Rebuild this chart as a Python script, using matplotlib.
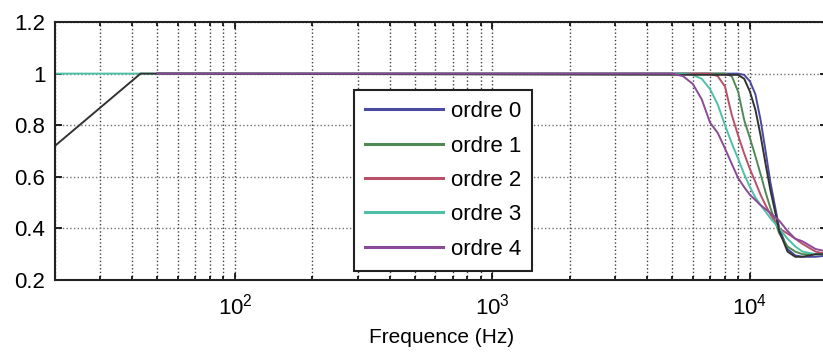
import matplotlib
matplotlib.use('Agg')
import matplotlib.pyplot as plt
from matplotlib.ticker import LogLocator, NullFormatter, FixedLocator

plt.rcParams['font.family'] = ['Liberation Sans', 'DejaVu Sans']

# common frequency grid for the roll-off region (Hz)
freq_hi = [4000, 5000, 5500, 6000, 6500, 7000, 7500, 8000, 8500, 9000, 9500,
           10000, 10500, 11000, 11500, 12000, 13000, 14000, 15000, 16000, 18000, 20000]

# where each curve starts at low frequency (value 1 there)
start_freq = {'ordre 0': 50, 'ordre 1': 50, 'ordre 2': 50, 'ordre 3': 20, 'ordre 4': 50}

ordre0 = [1, 1, 1, 1, 1, 1, 1, 1, 1, 1, 0.995, 0.97, 0.92, 0.82, 0.70, 0.58, 0.40, 0.32, 0.295, 0.29, 0.29, 0.295]
ordre1 = [1, 1, 1, 1, 1, 1, 1, 1, 0.99, 0.93, 0.82, 0.75, 0.68, 0.61, 0.54, 0.48, 0.38, 0.33, 0.31, 0.30, 0.30, 0.30]
ordre2 = [1, 1, 1, 1, 1, 1, 0.99, 0.95, 0.84, 0.76, 0.69, 0.63, 0.58, 0.53, 0.49, 0.455, 0.40, 0.38, 0.36, 0.34, 0.31, 0.30]
ordre3 = [1, 1, 1, 0.995, 0.98, 0.94, 0.88, 0.80, 0.73, 0.67, 0.61, 0.56, 0.52, 0.49, 0.465, 0.44, 0.40, 0.36, 0.33, 0.31, 0.30, 0.30]
ordre4 = [1, 1, 0.99, 0.96, 0.90, 0.81, 0.77, 0.71, 0.65, 0.595, 0.56, 0.53, 0.51, 0.49, 0.475, 0.46, 0.43, 0.39, 0.36, 0.35, 0.32, 0.31]

# reference curve (black), not in the legend
ref_freq = [20, 43, 9000, 9500, 10000, 10500, 11000, 11500, 12000, 13000, 14000, 15000, 16000, 18000, 20000]
ref_vals = [0.72, 1.0, 0.995, 0.98, 0.93, 0.86, 0.76, 0.65, 0.55, 0.39, 0.31, 0.29, 0.29, 0.30, 0.30]

series = {'ordre 0': ordre0, 'ordre 1': ordre1, 'ordre 2': ordre2,
          'ordre 3': ordre3, 'ordre 4': ordre4}
colors = {'ordre 0': '#4a4aa0', 'ordre 1': '#4f8a55', 'ordre 2': '#b8506a',
          'ordre 3': '#4fbfa8', 'ordre 4': '#8a4a98'}

fig = plt.figure(figsize=(8.23, 3.52), dpi=100)
ax = fig.add_axes([0.0668, 0.2045, 0.9386, 0.733])

handles = []
for name in ['ordre 0', 'ordre 1', 'ordre 2', 'ordre 3']:
    f = [start_freq[name]] + freq_hi
    v = [1.0] + series[name]
    h, = ax.plot(f, v, color=colors[name], linewidth=1.4, label=name)
    handles.append(h)
ax.plot(ref_freq, ref_vals, color='#333333', linewidth=1.4)
f = [start_freq['ordre 4']] + freq_hi
v = [1.0] + series['ordre 4']
h, = ax.plot(f, v, color=colors['ordre 4'], linewidth=1.4, label='ordre 4')
handles.append(h)

ax.set_xscale('log')
ax.set_xlim(20, 20000)
ax.set_ylim(0.2, 1.2)
ax.yaxis.set_major_locator(FixedLocator([0.2, 0.4, 0.6, 0.8, 1.0, 1.2]))
ax.set_yticklabels(['0.2', '0.4', '0.6', '0.8', '1', '1.2'])
ax.xaxis.set_major_locator(LogLocator(base=10))
ax.xaxis.set_minor_locator(LogLocator(base=10, subs=range(2, 10)))
ax.xaxis.set_minor_formatter(NullFormatter())

ax.grid(True, which='both', axis='x', linestyle=':', color='0.25', linewidth=1.0)
ax.grid(True, which='major', axis='y', linestyle=':', color='0.45', linewidth=1.0)
ax.tick_params(which='both', direction='in', top=True, right=True, labelsize=16, width=1.2)
ax.tick_params(which='major', length=5)
ax.tick_params(which='minor', length=3)
ax.tick_params(axis='x', which='major', pad=10)
ax.tick_params(axis='y', which='major', pad=7)
for s in ax.spines.values():
    s.set_linewidth(1.5)
    s.set_color('#222222')

ax.set_xlabel('Frequence (Hz)', fontsize=15, labelpad=6)

leg = ax.legend(handles=handles, loc='upper left', bbox_to_anchor=(0.387, 0.736),
                borderaxespad=0, fontsize=16, handlelength=3.5, handletextpad=0.35,
                labelspacing=0.6, borderpad=0.5, fancybox=False, framealpha=1,
                edgecolor='#222222')
leg.get_frame().set_linewidth(1.5)
for line in leg.get_lines():
    line.set_linewidth(2.2)

fig.savefig('out.png', dpi=100)
